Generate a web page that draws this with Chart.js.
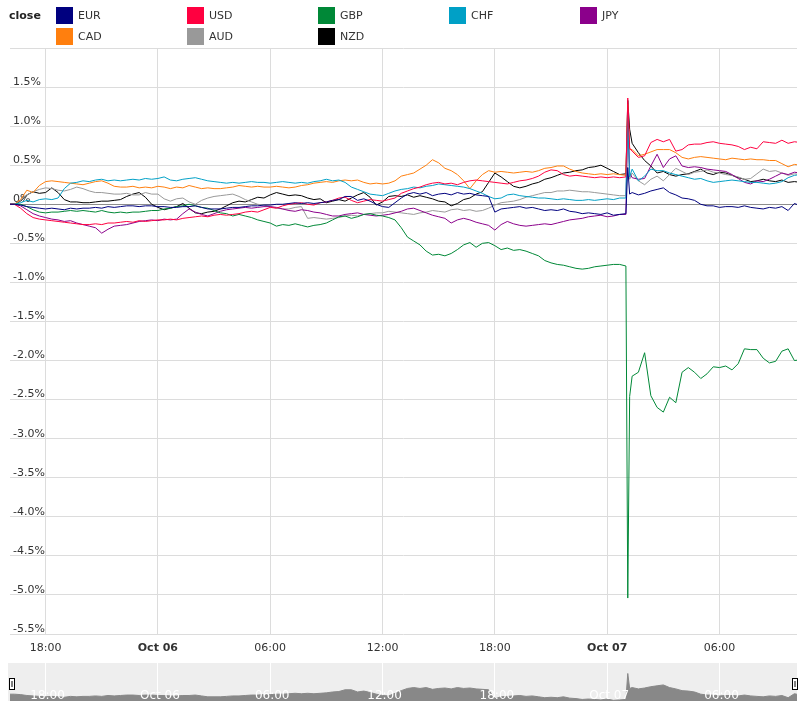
<!DOCTYPE html>
<html>
<head>
<meta charset="utf-8">
<script src="https://cdn.jsdelivr.net/npm/chart.js@4.4.0/dist/chart.umd.min.js"></script>
<style>
  body { margin: 0; width: 800px; height: 701px; overflow: hidden; background: #fff; position: relative; font-family: 'DejaVu Sans', sans-serif; }
  #legend { position: absolute; left: 0; top: 0; width: 800px; height: 48px; }
  #legend .title { position: absolute; left: 9px; top: 9px; font-size: 11px; font-weight: bold; color: #222; }
  #legend .item { position: absolute; height: 17px; line-height: 18px; font-size: 11px; color: #333; }
  #legend .box { position: absolute; left: 0; top: 0; width: 17px; height: 17px; }
  #legend .txt { position: absolute; left: 22px; top: 0; white-space: nowrap; }
  #mainWrap { position: absolute; left: 0; top: 0; width: 800px; height: 660px; }
  #navWrap { position: absolute; left: 0; top: 663px; width: 800px; height: 38px; }
</style>
</head>
<body>
<div id="mainWrap"><canvas id="mainChart"></canvas></div>
<div id="navWrap"><canvas id="navChart"></canvas></div>
<div id="legend"><div class="title">close</div></div>
<script>
// series names and colours
const currencies = ['EUR', 'USD', 'GBP', 'CHF', 'JPY', 'CAD', 'AUD', 'NZD'];
const colors = ['#00007f', '#ff0040', '#008837', '#00a0c6', '#8b008b', '#ff7f0e', '#999999', '#000000'];

// x axis: hours from Oct 06 00:00
const tickHours = [-6, 0, 6, 12, 18, 24, 30];
const tickLabels = ['18:00', 'Oct 06', '06:00', '12:00', '18:00', 'Oct 07', '06:00'];
const yTicks = [2, 1.5, 1, 0.5, 0, -0.5, -1, -1.5, -2, -2.5, -3, -3.5, -4, -4.5, -5, -5.5];

// sample times: every 20 minutes, plus two extra points at the flash crash
const hours = [];
for (let i = 0; i <= 127; i++) {
    hours.push(-8 + i / 3);
    if (i === 99) hours.push(25.1, 25.2);
}

// % change of the close
const eur = [0, 0, -0.01, -0.03, -0.04, -0.05, -0.06, -0.05, -0.06, -0.07,
    -0.05, -0.06, -0.05, -0.05, -0.04, -0.05, -0.03, -0.04, -0.03, -0.02,
    -0.02, -0.03, -0.02, -0.02, -0.03, -0.03, -0.04, -0.04, -0.03, -0.03,
    -0.02, -0.04, -0.06, -0.06, -0.06, -0.05, -0.04, -0.04, -0.03, -0.02,
    -0.02, -0.01, -0.01, 0, 0, 0.01, 0.02, 0.01, 0.02, 0.01,
    0.02, 0.03, 0.05, 0.06, 0.1, 0.1, 0.05, 0.07, 0.04, 0,
    -0.03, -0.04, 0.02, 0.08, 0.13, 0.15, 0.13, 0.15, 0.11, 0.13,
    0.14, 0.12, 0.15, 0.13, 0.14, 0.12, 0.11, 0.1, -0.1, -0.06,
    -0.05, -0.04, -0.03, -0.05, -0.04, -0.06, -0.08, -0.07, -0.08, -0.06,
    -0.09, -0.1, -0.12, -0.11, -0.12, -0.13, -0.11, -0.14, -0.13, -0.12,
    0.47, 0.13,
    0.15, 0.12, 0.14, 0.17, 0.19, 0.21, 0.15, 0.12, 0.08, 0.07,
    0.05, 0, -0.02, -0.02, -0.04, -0.03, -0.03, -0.04, -0.02, -0.04,
    -0.05, -0.06, -0.04, -0.05, -0.03, -0.08, 0.01, -0.02];

const usd = [0, 0, -0.05, -0.12, -0.17, -0.19, -0.2, -0.21, -0.22, -0.23,
    -0.24, -0.25, -0.26, -0.26, -0.25, -0.26, -0.24, -0.24, -0.23, -0.22,
    -0.23, -0.21, -0.22, -0.21, -0.2, -0.2, -0.19, -0.2, -0.18, -0.17,
    -0.16, -0.15, -0.16, -0.14, -0.13, -0.14, -0.13, -0.12, -0.1, -0.09,
    -0.1, -0.07, -0.04, -0.05, -0.02, 0, 0.01, 0.02, 0, -0.01,
    0.02, 0.03, 0.05, 0.08, 0.09, 0.05, 0.02, 0.04, 0.06, 0.05,
    0.04, 0.06, 0.08, 0.14, 0.17, 0.2, 0.22, 0.25, 0.27, 0.28,
    0.26, 0.27, 0.25, 0.28, 0.3, 0.31, 0.3, 0.29, 0.28, 0.27,
    0.26, 0.28, 0.3, 0.31, 0.33, 0.36, 0.41, 0.44, 0.43, 0.38,
    0.36, 0.37, 0.36, 0.35, 0.34, 0.35, 0.34, 0.35, 0.34, 0.35,
    1.36, 0.72,
    0.68, 0.6, 0.62, 0.79, 0.83, 0.8, 0.83, 0.68, 0.7, 0.76,
    0.77, 0.77, 0.79, 0.8, 0.78, 0.77, 0.76, 0.74, 0.7, 0.73,
    0.71, 0.8, 0.79, 0.78, 0.82, 0.78, 0.8, 0.79];

const gbp = [0, 0, 0, -0.03, -0.07, -0.1, -0.11, -0.1, -0.1, -0.09,
    -0.08, -0.09, -0.08, -0.09, -0.1, -0.08, -0.1, -0.11, -0.1, -0.11,
    -0.1, -0.1, -0.09, -0.08, -0.08, -0.06, -0.05, -0.03, -0.02, 0,
    -0.02, -0.04, -0.05, -0.08, -0.11, -0.12, -0.15, -0.13, -0.15, -0.17,
    -0.2, -0.22, -0.24, -0.28, -0.26, -0.27, -0.25, -0.27, -0.29, -0.27,
    -0.26, -0.24, -0.2, -0.16, -0.15, -0.18, -0.16, -0.13, -0.12, -0.14,
    -0.15, -0.17, -0.2, -0.3, -0.42, -0.47, -0.52, -0.6, -0.65, -0.64,
    -0.66, -0.63, -0.58, -0.52, -0.49, -0.55, -0.5, -0.49, -0.53, -0.58,
    -0.56, -0.59, -0.58, -0.6, -0.63, -0.66, -0.72, -0.75, -0.77, -0.78,
    -0.8, -0.82, -0.83, -0.82, -0.8, -0.79, -0.78, -0.77, -0.77, -0.79,
    -5.04, -2.46,
    -2.2, -2.15, -1.9, -2.45, -2.6, -2.66, -2.47, -2.54, -2.15, -2.09,
    -2.15, -2.23, -2.17, -2.08, -2.09, -2.07, -2.12, -2.04, -1.85, -1.86,
    -1.86, -1.97, -2.03, -2.01, -1.88, -1.85, -2.0, -1.99];

const chf = [0, 0, 0.02, 0.05, 0.03, 0.06, 0.07, 0.06, 0.08, 0.2,
    0.27, 0.28, 0.3, 0.29, 0.31, 0.32, 0.3, 0.31, 0.3, 0.31,
    0.32, 0.31, 0.33, 0.32, 0.33, 0.35, 0.31, 0.3, 0.32, 0.33,
    0.34, 0.32, 0.3, 0.29, 0.28, 0.27, 0.28, 0.27, 0.28, 0.29,
    0.28, 0.28, 0.27, 0.28, 0.29, 0.28, 0.27, 0.28, 0.27, 0.29,
    0.3, 0.32, 0.3, 0.31, 0.28, 0.22, 0.19, 0.16, 0.13, 0.12,
    0.11, 0.14, 0.17, 0.19, 0.2, 0.22, 0.21, 0.23, 0.24, 0.26,
    0.25, 0.24, 0.23, 0.22, 0.2, 0.17, 0.14, 0.1, 0.07, 0.08,
    0.12, 0.13, 0.11, 0.1, 0.09, 0.08, 0.08, 0.07, 0.06, 0.07,
    0.06, 0.05, 0.05, 0.06, 0.05, 0.06, 0.07, 0.06, 0.08, 0.08,
    1.15, 0.35,
    0.45, 0.3, 0.36, 0.45, 0.43, 0.43, 0.4, 0.38, 0.36, 0.34,
    0.32, 0.33, 0.3, 0.28, 0.29, 0.3, 0.31, 0.3, 0.29, 0.28,
    0.28, 0.27, 0.26, 0.27, 0.29, 0.34, 0.37, 0.38];

const jpy = [0, 0, -0.02, -0.07, -0.12, -0.15, -0.17, -0.19, -0.2, -0.22,
    -0.21, -0.24, -0.26, -0.28, -0.3, -0.37, -0.32, -0.28, -0.27, -0.26,
    -0.24, -0.22, -0.21, -0.2, -0.21, -0.19, -0.2, -0.19, -0.12, -0.06,
    -0.1, -0.13, -0.15, -0.12, -0.09, -0.07, -0.06, -0.05, -0.04, -0.05,
    -0.04, -0.03, -0.03, -0.04, -0.06, -0.08, -0.09, -0.07, -0.08, -0.1,
    -0.11, -0.13, -0.15, -0.15, -0.13, -0.12, -0.11, -0.13, -0.14, -0.15,
    -0.14, -0.13, -0.11, -0.09, -0.06, -0.05, -0.08, -0.11, -0.14, -0.16,
    -0.18, -0.24, -0.2, -0.18, -0.2, -0.23, -0.25, -0.27, -0.33, -0.26,
    -0.22, -0.25, -0.27, -0.28, -0.27, -0.26, -0.25, -0.26, -0.24, -0.22,
    -0.2, -0.19, -0.18, -0.16, -0.15, -0.14, -0.16, -0.15, -0.13, -0.13,
    1.2, 0.4,
    0.34, 0.32, 0.33, 0.49, 0.64, 0.47, 0.58, 0.62, 0.49, 0.47,
    0.48, 0.47, 0.45, 0.44, 0.43, 0.42, 0.38, 0.33, 0.28, 0.26,
    0.3, 0.29, 0.32, 0.36, 0.4, 0.38, 0.41, 0.4];

const cad = [0, 0, 0.06, 0.18, 0.15, 0.24, 0.29, 0.3, 0.29, 0.28,
    0.27, 0.26, 0.25, 0.27, 0.29, 0.3, 0.27, 0.23, 0.22, 0.22,
    0.23, 0.21, 0.22, 0.21, 0.23, 0.22, 0.2, 0.22, 0.21, 0.24,
    0.22, 0.2, 0.21, 0.2, 0.2, 0.21, 0.22, 0.24, 0.23, 0.22,
    0.23, 0.22, 0.22, 0.23, 0.22, 0.21, 0.22, 0.24, 0.25, 0.27,
    0.28, 0.29, 0.28, 0.3, 0.31, 0.3, 0.31, 0.28, 0.26, 0.27,
    0.26, 0.27, 0.3, 0.36, 0.38, 0.4, 0.45, 0.5, 0.57, 0.53,
    0.46, 0.43, 0.38, 0.3, 0.2, 0.3, 0.38, 0.43, 0.41, 0.42,
    0.41, 0.4, 0.41, 0.42, 0.41, 0.43, 0.46, 0.47, 0.49, 0.49,
    0.45, 0.42, 0.4, 0.39, 0.38, 0.39, 0.38, 0.39, 0.38, 0.37,
    1.28, 0.7,
    0.7, 0.62, 0.64, 0.67, 0.7, 0.7, 0.7, 0.66, 0.6, 0.58,
    0.6, 0.61, 0.6, 0.59, 0.58, 0.57, 0.59, 0.58, 0.57, 0.58,
    0.57, 0.57, 0.56, 0.56, 0.52, 0.48, 0.51, 0.5];

const aud = [0, 0, 0.05, 0.12, 0.16, 0.19, 0.21, 0.2, 0.18, 0.17,
    0.19, 0.22, 0.2, 0.17, 0.15, 0.15, 0.14, 0.13, 0.13, 0.14,
    0.12, 0.12, 0.15, 0.13, 0.13, 0.07, 0.04, 0.07, 0.08, 0.03,
    0, 0.05, 0.08, 0.1, 0.11, 0.12, 0.13, 0.1, 0.06, 0.03,
    0, -0.01, -0.03, -0.05, -0.06, -0.06, -0.04, -0.03, -0.18, -0.17,
    -0.18, -0.19, -0.18, -0.17, -0.15, -0.14, -0.15, -0.13, -0.12, -0.11,
    -0.11, -0.09, -0.1, -0.11, -0.12, -0.13, -0.11, -0.1, -0.08, -0.09,
    -0.1, -0.07, -0.06, -0.08, -0.07, -0.09, -0.08, -0.05, -0.01, 0.02,
    0.03, 0.04, 0.06, 0.09, 0.11, 0.13, 0.15, 0.15, 0.17, 0.17,
    0.18, 0.17, 0.16, 0.16, 0.15, 0.14, 0.13, 0.12, 0.11, 0.11,
    1.1, 0.32,
    0.4, 0.3, 0.25, 0.32, 0.36, 0.3, 0.38, 0.46, 0.42, 0.38,
    0.41, 0.42, 0.44, 0.41, 0.4, 0.38, 0.37, 0.35, 0.32, 0.33,
    0.39, 0.45, 0.42, 0.43, 0.4, 0.37, 0.39, 0.38];

const nzd = [0, 0, 0.04, 0.12, 0.16, 0.14, 0.15, 0.21, 0.15, 0.06,
    0.03, 0.03, 0.02, 0.02, 0.03, 0.04, 0.04, 0.05, 0.06, 0.1,
    0.13, 0.15, 0.09, 0, -0.04, -0.07, -0.05, -0.03, 0.01, -0.05,
    -0.11, -0.12, -0.1, -0.09, -0.06, -0.02, 0.02, 0.04, 0.03, 0.06,
    0.09, 0.08, 0.12, 0.15, 0.13, 0.11, 0.12, 0.11, 0.08, 0.06,
    0.07, 0.02, 0.04, 0.06, 0.04, 0.08, 0.12, 0.15, 0.09, -0.01,
    0.03, 0.1, 0.11, 0.1, 0.12, 0.09, 0.11, 0.09, 0.07, 0.04,
    0.03, -0.02, 0.01, 0.06, 0.08, 0.13, 0.16, 0.28, 0.4, 0.35,
    0.29, 0.23, 0.21, 0.23, 0.26, 0.28, 0.32, 0.34, 0.37, 0.4,
    0.41, 0.43, 0.44, 0.47, 0.48, 0.5, 0.46, 0.42, 0.38, 0.39,
    1.33, 0.96,
    0.78, 0.66, 0.56, 0.49, 0.4, 0.42, 0.38, 0.36, 0.38, 0.39,
    0.42, 0.45, 0.4, 0.38, 0.41, 0.4, 0.37, 0.34, 0.32, 0.29,
    0.3, 0.32, 0.3, 0.29, 0.31, 0.28, 0.29, 0.28];

const seriesValues = [eur, usd, gbp, chf, jpy, cad, aud, nzd];
// the navigator strip shows the EUR series
const navValues = eur;

Chart.defaults.font.family = "'DejaVu Sans', sans-serif";
Chart.defaults.font.size = 11;
Chart.defaults.color = '#333';

function toPoints(vals) {
    return vals.map((v, i) => ({ x: hours[i], y: v }));
}

// legend at the top, 5 columns
const legend = document.getElementById('legend');
currencies.forEach((name, i) => {
    const item = document.createElement('div');
    item.className = 'item';
    item.style.left = (56 + (i % 5) * 131) + 'px';
    item.style.top = (7 + Math.floor(i / 5) * 21) + 'px';
    item.innerHTML = '<div class="box" style="background:' + colors[i] + '"></div><div class="txt">' + name + '</div>';
    legend.appendChild(item);
});

const X_MIN = -7.9, X_MAX = 34.14;

// main chart
new Chart(document.getElementById('mainChart'), {
    type: 'line',
    data: {
        datasets: currencies.map((name, i) => ({
            label: name,
            data: toPoints(seriesValues[i]),
            borderColor: colors[i],
            borderWidth: 1,
            pointRadius: 0,
            tension: 0,
            fill: false
        }))
    },
    options: {
        animation: false,
        responsive: true,
        maintainAspectRatio: false,
        layout: { padding: { left: 10, right: 3, top: 48, bottom: 0 } },
        plugins: { legend: { display: false }, tooltip: { enabled: false } },
        scales: {
            x: {
                type: 'linear',
                min: X_MIN,
                max: X_MAX,
                afterBuildTicks: s => { s.ticks = tickHours.map(v => ({ value: v })); },
                afterFit: s => { s.height = 26; },
                ticks: {
                    autoSkip: false,
                    maxRotation: 0,
                    padding: 8,
                    color: '#333',
                    callback: (v, i) => tickLabels[i],
                    font: ctx => ({ size: 11, weight: (ctx.tick && ctx.tick.value % 24 === 0) ? 'bold' : 'normal' })
                },
                grid: { color: '#dcdcdc', drawTicks: false },
                border: { display: false }
            },
            y: {
                min: -5.5,
                max: 2,
                afterBuildTicks: s => { s.ticks = yTicks.map(v => ({ value: v })); },
                afterFit: s => { s.width = 0; },
                ticks: {
                    mirror: true,
                    padding: 3,
                    labelOffset: -5,
                    color: '#333',
                    callback: v => v === 2 ? '' : (v === 0 ? '0%' : v.toFixed(1) + '%')
                },
                grid: {
                    color: ctx => (ctx.tick && ctx.tick.value === 0) ? '#8c8c8c' : '#dcdcdc',
                    drawTicks: false
                },
                border: { display: false }
            }
        }
    }
});

// navigator strip: grey band, white time labels, handles
const navDecor = {
    id: 'navDecor',
    beforeDraw(chart) {
        const c = chart.ctx;
        c.save();
        c.fillStyle = '#eeeeee';
        c.fillRect(8, 0, chart.width - 11, chart.height);
        c.restore();
    },
    afterDatasetsDraw(chart) {
        const c = chart.ctx;
        const xs = chart.scales.x;
        c.save();
        c.fillStyle = '#fff';
        c.font = "12px 'DejaVu Sans', sans-serif";
        c.textAlign = 'center';
        c.textBaseline = 'alphabetic';
        tickHours.forEach((h, i) => {
            c.fillText(tickLabels[i], xs.getPixelForValue(h) + 2, 36);
        });
        c.restore();
    },
    afterDraw(chart) {
        const c = chart.ctx;
        const a = chart.chartArea;
        c.save();
        [a.left - 1, a.right - 5].forEach(x => {
            c.fillStyle = '#fff';
            c.strokeStyle = '#000';
            c.lineWidth = 1;
            c.fillRect(x + 0.5, 15.5, 5, 11);
            c.strokeRect(x + 0.5, 15.5, 5, 11);
            c.beginPath();
            c.moveTo(x + 3, 18);
            c.lineTo(x + 3, 24);
            c.stroke();
        });
        c.restore();
    }
};

new Chart(document.getElementById('navChart'), {
    type: 'line',
    data: {
        datasets: [{
            data: toPoints(navValues),
            borderColor: '#888',
            backgroundColor: '#888',
            borderWidth: 1,
            pointRadius: 0,
            fill: 'start'
        }]
    },
    options: {
        animation: false,
        responsive: true,
        maintainAspectRatio: false,
        layout: { padding: { left: 10, right: 3, top: 0, bottom: 0 } },
        plugins: { legend: { display: false }, tooltip: { enabled: false } },
        scales: {
            x: {
                type: 'linear',
                min: X_MIN,
                max: X_MAX,
                afterBuildTicks: s => { s.ticks = tickHours.map(v => ({ value: v })); },
                afterFit: s => { s.height = 0; },
                ticks: { display: false },
                grid: { color: '#fff', drawTicks: false },
                border: { display: false }
            },
            y: { display: false, min: -0.155, max: 0.708 }
        }
    },
    plugins: [navDecor]
});
</script>
</body>
</html>
